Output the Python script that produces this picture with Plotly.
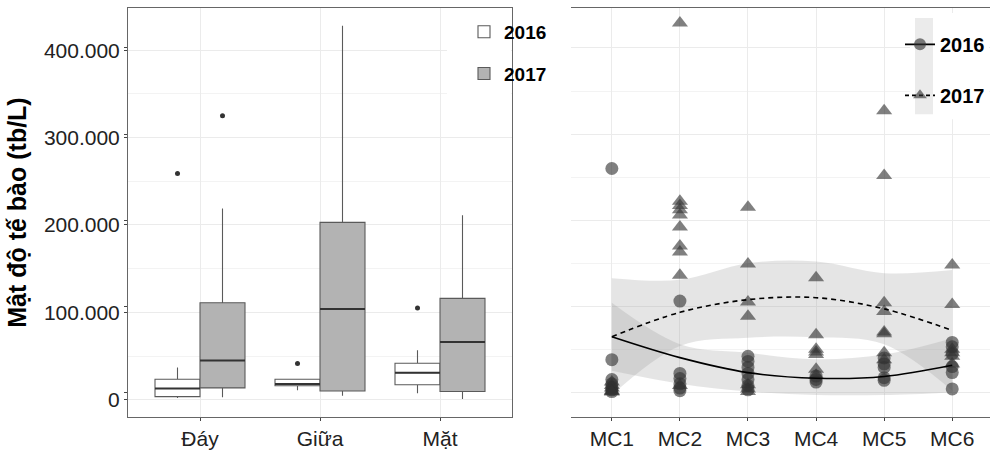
import plotly.graph_objects as go

# ---------------- data ----------------
layers = ["Đáy", "Giữa", "Mặt"]
years = ["2016", "2017"]

q1_2016 = [3600, 16100, 17300]
med_2016 = [13000, 18000, 30900]
q3_2016 = [23600, 23600, 41800]
lo_2016 = [2000, 11000, 7400]
hi_2016 = [37000, 23600, 56600]
out_2016 = [[259000], [41500], [105000]]

q1_2017 = [13600, 10000, 9500]
med_2017 = [45000, 104000, 66000]
q3_2017 = [111000, 203000, 116000]
lo_2017 = [2800, 4700, 1000]
hi_2017 = [219000, 428000, 211000]
out_2017 = [[325000], [], []]

sites = ["MC1", "MC2", "MC3", "MC4", "MC5", "MC6"]
dens_2016 = [
    [260000, 38000, 15000, 10000, 6000, 3000, 1000],
    [106000, 22000, 16000, 10000, 5000, 2000],
    [42000, 36000, 29000, 22000, 15000, 8000, 3000],
    [19000, 15000, 12000],
    [40000, 33000, 29000, 17000, 14000],
    [58000, 53000, 45000, 30000, 23000, 4000],
]
dens_2017 = [
    [12000, 8000, 5000, 2000, 1000, 500],
    [429000, 222000, 217000, 212000, 206000, 192000, 170000, 163000, 136000, 8000],
    [215000, 149000, 105000, 88500, 9000, 4000, 1000],
    [133000, 67000, 50000, 47000, 44000, 27000, 20000],
    [327000, 252000, 104000, 94000, 70000, 68000, 46000, 38000],
    [148000, 102000, 50000, 46000, 42000, 33000],
]
fit_2016 = [64600, 40400, 23000, 16500, 18500, 31500]
upper_2016 = [104000, 56000, 46000, 38500, 44000, 63000]
lower_2016 = [25000, 10000, 1000, -3000, -3000, 0]
fit_2017 = [64600, 93000, 107700, 110000, 97000, 72000]
upper_2017 = [132700, 130800, 150000, 152000, 138500, 142000]
lower_2017 = [-3000, 54000, 63500, 64000, 55800, 2000]

y_ticks = [0, 100000, 200000, 300000, 400000]
y_title = "Mật độ tế bào (tb/L)"

# ---------------- style ----------------
W, H = 990, 450
FONT = "Liberation Sans, Arial, sans-serif"
GRID = "#ebebeb"
MINOR = "#f3f3f3"
FRAME = "#666666"
PT_COLOR = "rgba(50,50,50,0.62)"
RIB_COLOR = "rgba(153,153,153,0.25)"
BOX_W = 0.375


def px(xp):
    return xp / W


def py(yp):
    return 1 - yp / H


fig = go.Figure()

# ---------------- left panel: box plots ----------------
box_specs = [
    ("2016", q1_2016, med_2016, q3_2016, lo_2016, hi_2016, out_2016, "white", -1),
    ("2017", q1_2017, med_2017, q3_2017, lo_2017, hi_2017, out_2017, "#b3b3b3", 1),
]
for name, q1, med, q3, lo, hi, outs, fill, sgn in box_specs:
    pos = [i + 1 + sgn * BOX_W / 2 for i in range(len(layers))]
    fig.add_trace(go.Box(
        x=pos, q1=q1, median=med, q3=q3, lowerfence=lo, upperfence=hi,
        width=BOX_W, whiskerwidth=0, boxpoints=False,
        fillcolor=fill, line=dict(color="#5a5a5a", width=1.1),
        name=name, legend="legend", legendgroup=name,
        xaxis="x", yaxis="y", hoverinfo="skip",
    ))
    # darker median bars (as in ggplot)
    mx, my = [], []
    for p, m in zip(pos, med):
        mx += [p - BOX_W / 2, p + BOX_W / 2, None]
        my += [m, m, None]
    fig.add_trace(go.Scatter(
        x=mx, y=my, mode="lines", line=dict(color="#333333", width=2),
        showlegend=False, xaxis="x", yaxis="y", hoverinfo="skip",
    ))
    ox, oy = [], []
    for p, vals in zip(pos, outs):
        for v in vals:
            ox.append(p)
            oy.append(v)
    fig.add_trace(go.Scatter(
        x=ox, y=oy, mode="markers", marker=dict(size=5, color="#333333"),
        showlegend=False, xaxis="x", yaxis="y", hoverinfo="skip",
    ))

# ---------------- right panel ----------------
for fit, up, lo in [(fit_2016, upper_2016, lower_2016), (fit_2017, upper_2017, lower_2017)]:
    fig.add_trace(go.Scatter(
        x=sites, y=lo, mode="lines", line=dict(width=0, shape="spline"),
        showlegend=False, xaxis="x2", yaxis="y2", hoverinfo="skip",
    ))
    fig.add_trace(go.Scatter(
        x=sites, y=up, mode="lines", line=dict(width=0, shape="spline"),
        fill="tonexty", fillcolor=RIB_COLOR,
        showlegend=False, xaxis="x2", yaxis="y2", hoverinfo="skip",
    ))

for dens, sym in [(dens_2016, "circle"), (dens_2017, "triangle-up")]:
    xs, ys = [], []
    for s, vals in zip(sites, dens):
        for v in vals:
            xs.append(s)
            ys.append(v)
    fig.add_trace(go.Scatter(
        x=xs, y=ys, mode="markers",
        marker=dict(symbol=sym, size=13 if sym == "circle" else 14, color=PT_COLOR, line=dict(width=0)),
        showlegend=False, xaxis="x2", yaxis="y2", hoverinfo="skip",
    ))

for fit, dash in [(fit_2016, "solid"), (fit_2017, "5px,4px")]:
    fig.add_trace(go.Scatter(
        x=sites, y=fit, mode="lines", line=dict(color="black", width=1.6, dash=dash, shape="spline"),
        showlegend=False, xaxis="x2", yaxis="y2", hoverinfo="skip",
    ))

# legend-only entries for right panel
for name, sym, dash in [("2016", "circle", "solid"), ("2017", "triangle-up", "4px,3px")]:
    fig.add_trace(go.Scatter(
        x=[None], y=[None], mode="lines+markers", name=name,
        marker=dict(symbol=sym, size=12, color=PT_COLOR),
        line=dict(color="black", width=1.6, dash=dash),
        legend="legend2", legendgroup="r" + name, xaxis="x2", yaxis="y2",
    ))

# ---------------- axes ----------------
tickfont = dict(family=FONT, size=21, color="#222222")
common_y = dict(
    showgrid=True, gridcolor=GRID, gridwidth=1,
    minor=dict(dtick=50000, tick0=0, showgrid=True, gridcolor=MINOR, gridwidth=1),
    zeroline=False, showline=True, mirror=True, linecolor=FRAME, linewidth=1,
    ticks="outside", ticklen=3, tickcolor="#444444",
    tickvals=y_ticks,
)
common_x = dict(
    showgrid=True, gridcolor=GRID, gridwidth=1, zeroline=False,
    showline=True, mirror=True, linecolor=FRAME, linewidth=1,
    ticks="outside", ticklen=3, tickcolor="#444444", tickfont=tickfont,
)

fig.update_layout(
    width=W, height=H,
    margin=dict(l=0, r=0, t=0, b=0),
    paper_bgcolor="white", plot_bgcolor="white",
    font=dict(family=FONT),
    boxmode="overlay",
    separators=",.",
    xaxis=dict(domain=[px(128), px(512)], range=[0.4, 3.6],
               tickvals=[1, 2, 3], ticktext=layers, **common_x),
    yaxis=dict(domain=[py(420), py(8)], range=[-19900, 448300],
               tickformat=",d", tickfont=tickfont,
               title=dict(text=y_title, font=dict(family=FONT, size=25, color="black", weight="bold"), standoff=10),
               **common_y),
    xaxis2=dict(domain=[px(571), 1.0], range=[-0.6, 5.555], type="category",
                categoryorder="array", categoryarray=sites, **common_x),
    yaxis2=dict(domain=[py(420.7), py(7)], range=[-29600, 447600],
                showticklabels=False, **common_y),
    legend=dict(x=px(464), y=py(13), xanchor="left", yanchor="top",
                bgcolor="rgba(0,0,0,0)", traceorder="grouped", tracegroupgap=14,
                font=dict(family=FONT, size=19, color="black", weight="bold")),
    legend2=dict(x=px(900), y=py(25), xanchor="left", yanchor="top",
                 bgcolor="rgba(0,0,0,0)", traceorder="grouped", tracegroupgap=22,
                 font=dict(family=FONT, size=20, color="black", weight="bold")),
    shapes=[
        dict(type="rect", xref="paper", yref="paper", x0=px(447), x1=px(511), y0=py(95), y1=py(10),
             fillcolor="white", line=dict(width=0), layer="above"),
        dict(type="rect", xref="paper", yref="paper", x0=px(910), x1=px(989), y0=py(120), y1=py(13),
             fillcolor="white", line=dict(width=0), layer="above"),
        dict(type="rect", xref="paper", yref="paper", x0=px(915), x1=px(933), y0=py(115), y1=py(18),
             fillcolor="#ebebeb", line=dict(width=0), layer="above"),
    ],
)

fig.write_html("out.html")
